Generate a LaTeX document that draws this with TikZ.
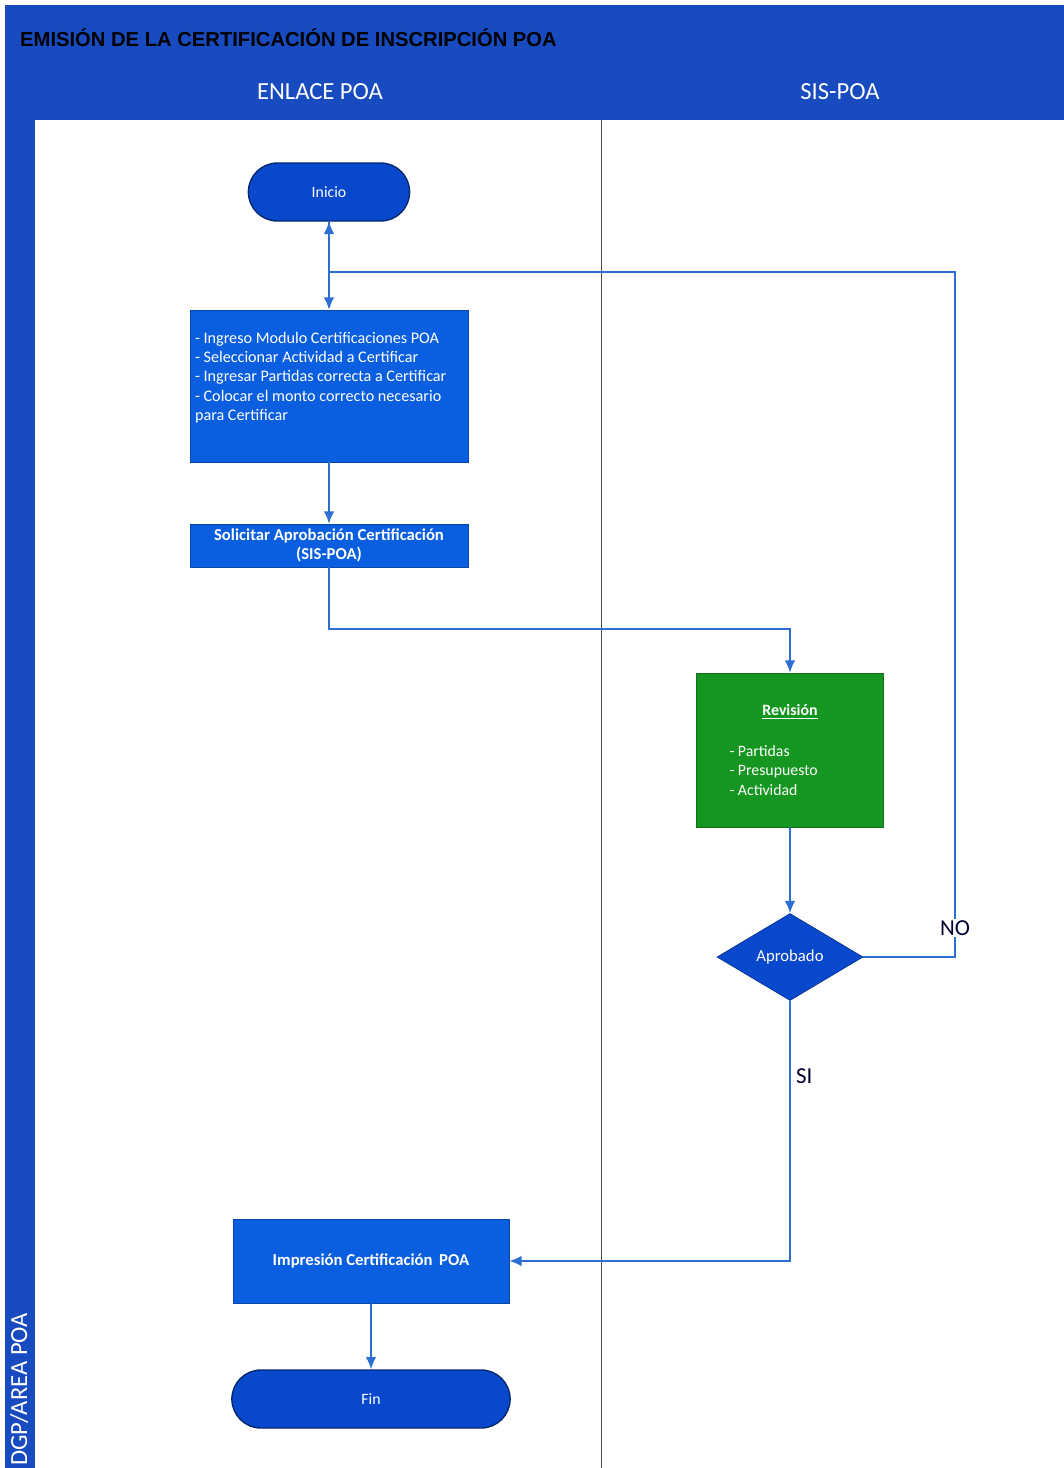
\documentclass[tikz,border=0pt]{standalone}
\usepackage{fontspec}
\setmainfont{Carlito}
\newfontfamily\titlefont{Liberation Sans}
\usepackage{xcolor}
\usepackage{tikz}
\usetikzlibrary{arrows.meta,positioning,calc}
\usetikzlibrary{shapes.misc,shapes.geometric}

\definecolor{poahead}{RGB}{24,74,192}
\definecolor{poabox}{RGB}{10,94,224}
\definecolor{poadark}{RGB}{8,72,204}
\definecolor{poagreen}{RGB}{20,150,32}
\definecolor{poaline}{RGB}{44,110,212}

\begin{document}
\begin{tikzpicture}[x=0.02cm,y=-0.02cm,
  caja/.style={rectangle,draw=poabox!75!black,thin,fill=poabox,text=white,inner sep=0pt},
  terminal/.style={rounded rectangle,draw=poadark!55!black,thick,fill=poadark,text=white,
    font=\fontsize{9}{11}\selectfont},
  decision/.style={diamond,draw=poadark!70!black,fill=poadark,text=white,inner sep=0pt,
    font=\fontsize{9.5}{11}\selectfont},
  flecha/.style={draw=poaline,line width=0.9pt,-{Latex[length=7pt,width=6pt]}},
  etiqueta/.style={text=black!80!blue,font=\fontsize{13}{15}\selectfont,inner sep=1pt}]
  \useasboundingbox (0,0) rectangle (1064,1468);
  % cabecera y banda lateral
  \fill[poahead] (5,5) rectangle (1064,120);
  \fill[poahead] (5,5) rectangle (35,1468);
  \draw[black!70,thin] (601,120) -- (601,1468);
  \node[anchor=west,font=\titlefont\bfseries\fontsize{11.5}{13}\selectfont] (titulo) at (14,38)
  {EMISIÓN DE LA CERTIFICACIÓN DE INSCRIPCIÓN POA};
  \node[text=white,font=\fontsize{14}{16}\selectfont] (enlace) at (320,92) {ENLACE POA};
  \node[text=white,font=\fontsize{14}{16}\selectfont] (sispoa) at (840,92) {SIS-POA};
  \node[rotate=90,anchor=west,text=white,font=\fontsize{14}{16}\selectfont] (area) at (19,1472)
  {DGP/AREA POA};

  % nodos del flujo
  \node[terminal,minimum width=3.46cm,minimum height=1.16cm] (inicio) at (329,192) {Inicio};
  \node[caja,minimum width=5.56cm,minimum height=3.04cm] (ingreso) at (329,386)
  {\parbox[c][3.04cm][t]{5.36cm}{\fontsize{9.2}{11}\selectfont\raggedright\vspace*{0.44cm}
      - Ingreso Modulo Certificaciones POA\\
      - Seleccionar Actividad a Certificar\\
      - Ingresar Partidas correcta a Certificar\\
      - Colocar el monto correcto necesario\\
      para Certificar}};
  \node[caja,minimum width=5.56cm,minimum height=0.86cm,align=center,
  font=\bfseries\fontsize{9.5}{11}\selectfont] (solicitar) at (329,545.5)
  {Solicitar Aprobación Certificación\\(SIS-POA)};
  \node[caja,fill=poagreen,draw=poagreen!75!black,minimum width=3.74cm,minimum height=3.08cm]
  (revision) at (790,750)
  {\parbox[c][3.08cm][c]{3.74cm}{\fontsize{9}{11}\selectfont
      \centering\textbf{\underline{Revisión}}\par\vspace{12pt}
      \raggedright\leftskip=0.66cm
      - Partidas\\
      - Presupuesto\\
      - Actividad\par}};
  \node[decision,minimum width=2.92cm,minimum height=1.74cm,aspect=1.68] (aprobado) at (790,957)
  {Aprobado};
  \node[caja,minimum width=5.52cm,minimum height=1.68cm,
  font=\bfseries\fontsize{9.5}{11}\selectfont] (impresion) at (371,1261)
  {Impresión Certificación\, POA};
  \node[terminal,minimum width=5.8cm,minimum height=1.16cm] (fin) at (371,1399) {Fin};

  % conectores
  \draw[flecha] (inicio) -- (ingreso);
  \draw[flecha] (ingreso) -- (solicitar);
  \draw[flecha] (solicitar.south) -- (329,629) -| (revision.north);
  \draw[flecha] (revision) -- (aprobado);
  %NO vuelve al inicio por la derecha
  \draw[flecha] (aprobado.east) -- (955,957)
  -- node[etiqueta,fill=white,pos=0.042] (no) {NO} (955,272)
  -- (329,272) -- (inicio.south);
  \draw[flecha] (aprobado.south)
  -- node[etiqueta,right=2pt,pos=0.29] (si) {SI} (aprobado.south |- impresion.east)
  -- (impresion.east);
  \draw[flecha] (impresion) -- (fin);
\end{tikzpicture}
\end{document}
